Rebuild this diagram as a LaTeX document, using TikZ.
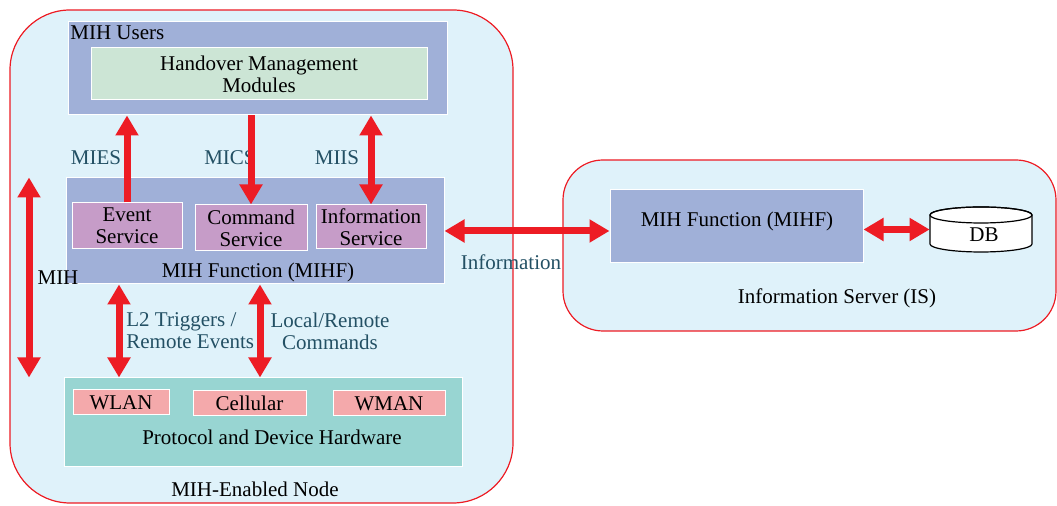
\documentclass[tikz,border=0pt]{standalone}
\usepackage{fontspec}
\setmainfont{Liberation Serif}
\newfontfamily\mihfont{Liberation Serif}
\usetikzlibrary{arrows.meta}
\definecolor{nodebg}{RGB}{223,242,250}
\definecolor{mihblue}{RGB}{160,176,216}
\definecolor{hmgreen}{RGB}{204,229,213}
\definecolor{srvpurple}{RGB}{198,156,200}
\definecolor{hwteal}{RGB}{152,213,210}
\definecolor{linkpink}{RGB}{244,169,171}
\definecolor{arrowred}{RGB}{237,28,36}
\definecolor{labeltxt}{RGB}{35,80,100}

\begin{document}
\begin{tikzpicture}[x=0.5pt, y=-0.5pt, font=\mihfont\fontsize{10.5}{11}\selectfont,
    box/.style = {draw=white, line width=0.5pt, inner sep=0pt, align=center},
    area/.style = {draw=arrowred, fill=nodebg, line width=0.6pt},
    tip/.tip = {Triangle[width=11pt, length=10pt]},
    link/.style = {line width=3.5pt, arrowred, -tip},
    dlink/.style = {line width=3.5pt, arrowred, tip-tip},
    lbl/.style = {text=labeltxt, align=left}]
    \useasboundingbox (0,0) rectangle (1057,506);
    % the two areas
    \draw[area, rounded corners=30pt] (10,10) rectangle (513,503);
    \draw[area, rounded corners=20pt] (563,160) rectangle (1056,331);
    % MIH-enabled node
    \node[box, fill=mihblue, minimum width=189.5pt, minimum height=46.5pt] (users) at (257.5,68.5) {};
    \node[box, fill=hmgreen, minimum width=168pt, minimum height=26pt] (hmm) at (259,74) {Handover Management\\Modules};
    \node[box, fill=mihblue, minimum width=189pt, minimum height=53pt] (mihf) at (255,231) {};
    \node[box, fill=srvpurple, minimum width=55pt, minimum height=23pt] (event) at (127,226) {Event\\Service};
    \node[box, fill=srvpurple, minimum width=56pt, minimum height=23pt] (cmd) at (251,228) {Command\\Service};
    \node[box, fill=srvpurple, minimum width=55pt, minimum height=22pt] (infos) at (371,227) {Information\\Service};
    \node[box, fill=hwteal, minimum width=199pt, minimum height=44.5pt] (hw) at (263,422.5) {};
    \node[box, fill=linkpink, minimum width=48pt, minimum height=12.5pt] (wlan) at (121,402.5) {WLAN};
    \node[box, fill=linkpink, minimum width=56.5pt, minimum height=12.5pt] (cell) at (249.5,403.5) {Cellular};
    \node[box, fill=linkpink, minimum width=56pt, minimum height=12.5pt] (wman) at (389,403.5) {WMAN};
    % information server
    \node[box, fill=mihblue, minimum width=126.5pt, minimum height=36.5pt] (ismihf) at (736.5,226.5) {};
    \node (ismihflbl) at (737,221) {MIH Function (MIHF)};
    \node[inner sep=0pt, minimum width=51pt, minimum height=22.5pt] (db) at (981,229.5) {};
    \draw[fill=white, line width=0.6pt] (930,215) -- (930,244) arc[start angle=180, end angle=360, x radius=25.5pt, y radius=4pt]
        -- (1032,215) arc[start angle=0, end angle=180, x radius=25.5pt, y radius=4pt] -- cycle;
    \draw[line width=0.6pt] (981,215) ellipse [x radius=25.5pt, y radius=4pt];
    \node (dblbl) at (984,235) {DB};
    % texts
    \node[anchor=west, inner sep=1pt] (usrlbl) at (68,33) {MIH Users};
    \node (mihflbl) at (258,272) {MIH Function (MIHF)};
    \node (hwlbl) at (272,437) {Protocol and Device Hardware};
    \node (nodelbl) at (255,489) {MIH-Enabled Node};
    \node (islbl) at (837,298) {Information Server (IS)};
    \node[lbl] (mies) at (96,158) {MIES};
    \node[lbl] (mics) at (230,158) {MICS};
    \node[lbl] (miis) at (337,158) {MIIS};
    \node (mihlbl) at (58,278) {MIH};
    \node[lbl, anchor=west, inner sep=0pt] (l2lbl) at (126,331) {L2 Triggers /\\Remote Events};
    \node[lbl, align=center] (cmdlbl) at (330,331) {Local/Remote\\Commands};
    \node[lbl] (infolbl) at (511,262) {Information};
    % arrows
    \coordinate (mihx) at (29,0);
    \coordinate (l2x) at (119,0);
    \coordinate (lrx) at (260,0);
    \draw[link] (event.north) -- (event.north |- users.south);
    \draw[link] (users.south -| cmd.north) -- (cmd.north);
    \draw[dlink] (users.south -| infos.north) -- (infos.north);
    \draw[dlink] (mihf.north -| mihx) -- (hw.north -| mihx);
    \draw[dlink] (mihf.south -| l2x) -- (hw.north -| l2x);
    \draw[dlink] (mihf.south -| lrx) -- (hw.north -| lrx);
    \draw[dlink] (mihf.east) -- (ismihf.west |- mihf.east);
    \draw[dlink] (ismihf.east |- db.center) -- (db.west);
\end{tikzpicture}
\end{document}
